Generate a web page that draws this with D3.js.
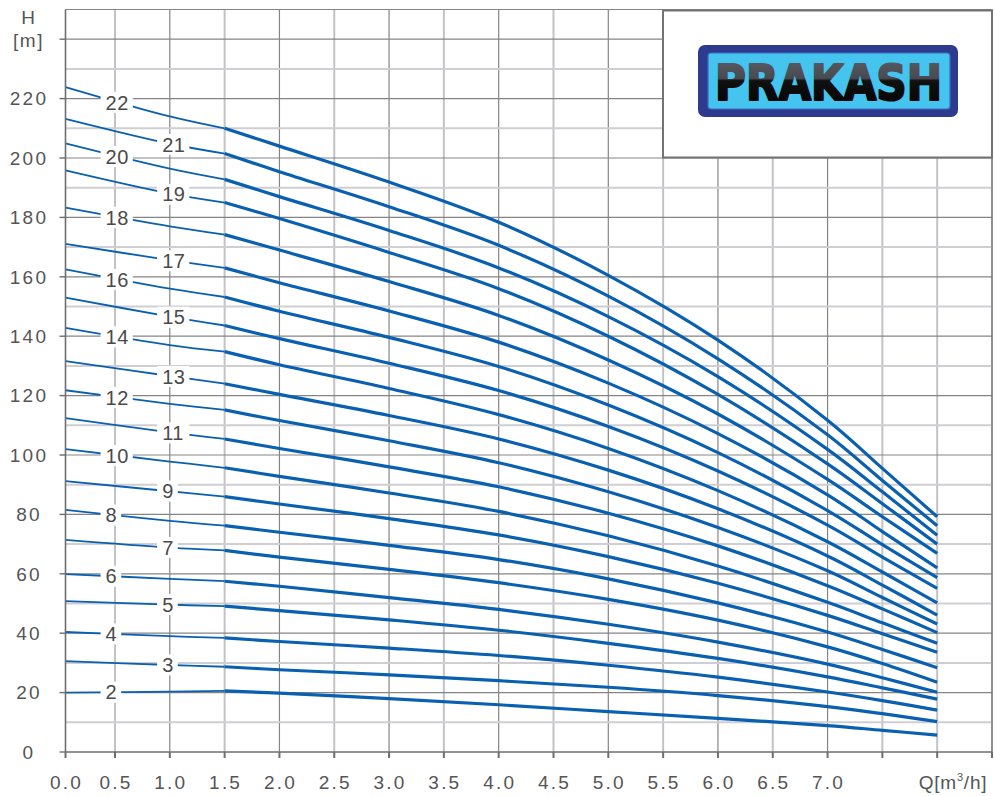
<!DOCTYPE html>
<html>
<head>
<meta charset="utf-8">
<script src="https://cdn.jsdelivr.net/npm/d3@7"></script>
<style>
  body { margin: 0; background: #fff; }
  svg { display: block; font-family: "Liberation Sans", Arial, sans-serif; }
</style>
</head>
<body>
<svg width="995" height="796"></svg>
<script>
// Flow points (m3/h) at which the heads are read
const flows = [0, 1, 1.5, 2, 3, 4, 5, 6, 7, 7.5, 8];

// Head (m) for each pump stage count
const h2  = [20.0, 20.3, 20.6, 19.8, 18.0, 15.9, 13.6, 11.3, 8.9, 7.3, 5.7];
const h3  = [30.6, 29.3, 28.7, 27.7, 26.0, 24.0, 21.8, 19.0, 15.3, 12.9, 10.2];
const h4  = [40.4, 39.0, 38.4, 37.2, 35.0, 32.5, 29.2, 25.2, 20.2, 17.3, 14.1];
const h5  = [50.8, 49.6, 49.1, 47.6, 44.5, 41.0, 36.6, 31.5, 25.3, 21.6, 17.8];
const h6  = [59.9, 58.3, 57.5, 55.8, 52.0, 48.0, 43.0, 37.0, 29.6, 25.0, 20.1];
const h7  = [71.4, 68.8, 67.9, 65.6, 61.5, 57.0, 51.4, 44.4, 35.4, 29.8, 23.5];
const h8  = [81.5, 77.8, 76.2, 74.0, 69.6, 64.8, 58.3, 50.2, 40.4, 34.5, 28.4];
const h9  = [91.2, 87.8, 86.0, 83.5, 78.6, 73.1, 65.8, 56.8, 46.0, 39.8, 33.6];
const h10 = [102.0, 97.8, 95.7, 92.8, 87.2, 81.0, 72.8, 62.6, 50.4, 43.5, 36.6];
const h11 = [112.4, 107.6, 105.4, 102.2, 96.0, 89.3, 80.4, 69.4, 56.0, 48.2, 40.2];
const h12 = [121.8, 117.2, 115.2, 111.6, 104.8, 97.4, 87.6, 75.6, 61.0, 52.0, 43.1];
const h13 = [131.6, 126.6, 124.0, 120.4, 113.3, 105.4, 94.9, 81.9, 66.0, 56.2, 46.1];
const h14 = [142.8, 137.0, 134.8, 130.4, 122.4, 113.6, 102.2, 88.0, 70.8, 60.6, 50.2];
const h15 = [153.0, 146.6, 143.6, 139.2, 130.9, 121.7, 109.6, 94.6, 76.4, 65.6, 55.1];
const h16 = [162.5, 156.0, 153.2, 148.4, 139.6, 129.8, 116.8, 100.8, 81.3, 69.8, 58.7];
const h17 = [171.1, 165.6, 163.0, 158.0, 148.5, 138.0, 124.2, 107.2, 86.6, 74.2, 62.0];
const h18 = [183.3, 177.0, 174.2, 169.0, 158.4, 147.0, 132.0, 113.8, 91.8, 79.2, 66.9];
const h19 = [195.8, 188.0, 185.0, 179.6, 168.2, 156.0, 140.0, 120.4, 97.0, 83.6, 70.0];
const h20 = [204.9, 196.4, 192.8, 187.0, 175.6, 163.0, 146.6, 126.4, 101.9, 87.6, 73.0];
const h21 = [213.2, 204.8, 201.5, 195.4, 183.6, 170.6, 153.5, 132.4, 106.8, 91.4, 76.2];
const h22 = [223.9, 214.0, 210.0, 204.0, 191.9, 178.4, 160.5, 138.7, 111.7, 95.5, 79.2];

const stages = [2, 3, 4, 5, 6, 7, 8, 9, 10, 11, 12, 13, 14, 15, 16, 17, 18, 19, 20, 21, 22];
const heads = [h2, h3, h4, h5, h6, h7, h8, h9, h10, h11, h12, h13, h14, h15, h16, h17, h18, h19, h20, h21, h22];

// Axis ticks
const yTicks = [0, 20, 40, 60, 80, 100, 120, 140, 160, 180, 200, 220, 240];
const yTickLabels = ["0", "20", "40", "60", "80", "100", "120", "140", "160", "180", "200", "220", ""];
const xTicks = [0, 0.5, 1, 1.5, 2, 2.5, 3, 3.5, 4, 4.5, 5, 5.5, 6, 6.5, 7, 7.5, 8, 8.5];
const xTickLabels = ["0.0", "0.5", "1.0", "1.5", "2.0", "2.5", "3.0", "3.5", "4.0", "4.5", "5.0", "5.5", "6.0", "6.5", "7.0", "", "", ""];

const svg = d3.select("svg");
const blue = "#0a60b0";

// scales (the original sheet squeezes the first half step slightly)
const x = d3.scaleLinear().domain([0, 0.5, 8.5]).range([65.5, 115, 992]);
const y = d3.scaleLinear().domain([0, 250]).range([752, 9.5]);

// Grid
const grid = svg.append("g");
const xGrid = d3.range(1, 18).map(i => i * 0.5);
grid.selectAll(".vg").data(xGrid).enter().append("line")
    .attr("x1", d => x(d)).attr("x2", d => x(d))
    .attr("y1", y(0)).attr("y2", y(250))
    .attr("stroke", d => (d % 1 === 0 && d !== 8) ? "#858585" : "#c3c3c7")
    .attr("stroke-width", d => (d % 1 === 0 && d !== 8) ? 1.2 : 2);
const yGrid = d3.range(1, 26).map(i => i * 10);
grid.selectAll(".hg").data(yGrid).enter().append("line")
    .attr("x1", x(0)).attr("x2", x(8.5))
    .attr("y1", d => y(d)).attr("y2", d => y(d))
    .attr("stroke", d => d % 20 === 0 || d === 250 ? "#858585" : "#cfcfd3")
    .attr("stroke-width", d => d % 20 === 0 || d === 250 ? 1.2 : 2);

// Curves: thin up to 1.5 m3/h, thick after
const line = d3.line().x(d => x(d[0])).y(d => y(d[1])).curve(d3.curveCatmullRom.alpha(0.5));
const curves = svg.append("g");
heads.forEach((hs, i) => {
    const pts = flows.map((q, j) => [q, hs[j]]);
    curves.append("path")
        .attr("d", line(pts.filter(p => p[0] <= 1.5)))
        .attr("fill", "none").attr("stroke", blue).attr("stroke-width", 1.8);
    curves.append("path")
        .attr("d", line(pts.filter(p => p[0] >= 1.5)))
        .attr("fill", "none").attr("stroke", blue).attr("stroke-width", 3.2)
        .attr("stroke-linejoin", "round");
});

// Stage labels on the curves
const labels = svg.append("g").attr("font-size", 20).attr("fill", "#4a4a4a").attr("letter-spacing", 0.5);
stages.forEach((s, i) => {
    const qStart = s % 2 === 0 ? 0.405 : 0.93;
    const txt = String(s);
    const w = txt.length * 11.6;
    const qMid = x.invert(x(qStart) + w / 2);
    const headAt = d3.scaleLinear().domain(flows).range(heads[i]);
    const cy = y(headAt(qMid));
    labels.append("rect")
        .attr("x", x(qStart) - 5).attr("y", cy - 10.5)
        .attr("width", w + 9).attr("height", 21)
        .attr("fill", "#fff");
    labels.append("text")
        .attr("x", x(qStart)).attr("y", cy + 7.2)
        .text(txt);
});

// Axes
const axes = svg.append("g").attr("stroke", "#6e6e6e");
axes.append("line").attr("x1", x(0)).attr("x2", x(0)).attr("y1", y(0)).attr("y2", y(250)).attr("stroke-width", 1.6);
axes.append("line").attr("x1", x(0)).attr("x2", x(8.5)).attr("y1", y(0)).attr("y2", y(0)).attr("stroke-width", 1.6);
axes.append("line").attr("x1", x(8.5)).attr("x2", x(8.5)).attr("y1", y(0)).attr("y2", y(250)).attr("stroke-width", 1.2);
axes.selectAll(".yt").data(yTicks).enter().append("line")
    .attr("x1", x(0) - 6).attr("x2", x(0))
    .attr("y1", d => y(d)).attr("y2", d => y(d)).attr("stroke-width", 1.4);
axes.selectAll(".xt").data(xTicks).enter().append("line")
    .attr("x1", d => x(d)).attr("x2", d => x(d))
    .attr("y1", y(0)).attr("y2", y(0) + 6).attr("stroke-width", 2);

const tickText = svg.append("g").attr("fill", "#555").attr("font-size", 19).attr("letter-spacing", 2.2);
tickText.selectAll(".yl").data(yTicks).enter().append("text")
    .attr("x", 29).attr("y", d => y(d) + 6.8)
    .attr("text-anchor", "middle")
    .text((d, i) => yTickLabels[i]);
tickText.selectAll(".xl").data(xTicks).enter().append("text")
    .attr("x", d => x(d) + 1).attr("y", 789)
    .attr("text-anchor", "middle")
    .text((d, i) => xTickLabels[i]);

// axis titles
tickText.append("text").attr("x", 28).attr("y", 24).attr("text-anchor", "middle").attr("letter-spacing", 0).text("H");
tickText.append("text").attr("x", 28.5).attr("y", 47).attr("text-anchor", "middle").attr("letter-spacing", 1.5).text("[m]");
const qLabel = tickText.append("text").attr("x", 953).attr("y", 789).attr("text-anchor", "middle").attr("letter-spacing", 0.8);
qLabel.append("tspan").text("Q[m");
qLabel.append("tspan").attr("font-size", 11).attr("dy", -8).text("3");
qLabel.append("tspan").attr("dy", 8).text("/h]");

// Logo box
const logo = svg.append("g");
const defs = svg.append("defs");
const grad = defs.append("linearGradient").attr("id", "gloss")
    .attr("x1", "0%").attr("x2", "0%").attr("y1", "0%").attr("y2", "100%");
grad.append("stop").attr("offset", "0%").attr("stop-color", "#5b5f67");
grad.append("stop").attr("offset", "42%").attr("stop-color", "#474a51");
grad.append("stop").attr("offset", "46%").attr("stop-color", "#111");
grad.append("stop").attr("offset", "100%").attr("stop-color", "#000");

logo.append("rect").attr("x", 663).attr("y", 10.5).attr("width", 329).attr("height", 147)
    .attr("fill", "#fff").attr("stroke", "#737373").attr("stroke-width", 2);
logo.append("rect").attr("x", 698).attr("y", 45).attr("width", 260).attr("height", 72)
    .attr("rx", 7).attr("fill", "#2e3a8e");
logo.append("rect").attr("x", 708).attr("y", 53).attr("width", 242).attr("height", 56)
    .attr("rx", 3).attr("fill", "#45c4ef").attr("stroke", "#3c6cc0").attr("stroke-width", 1.2);
logo.append("text")
    .attr("x", 715).attr("y", 100)
    .attr("textLength", 227).attr("lengthAdjust", "spacingAndGlyphs")
    .attr("font-family", "'DejaVu Sans', sans-serif")
    .attr("font-size", 50).attr("font-weight", "bold")
    .attr("fill", "url(#gloss)").attr("stroke", "url(#gloss)").attr("stroke-width", 2.2)
    .attr("stroke-linejoin", "round")
    .text("PRAKASH");
</script>
</body>
</html>
